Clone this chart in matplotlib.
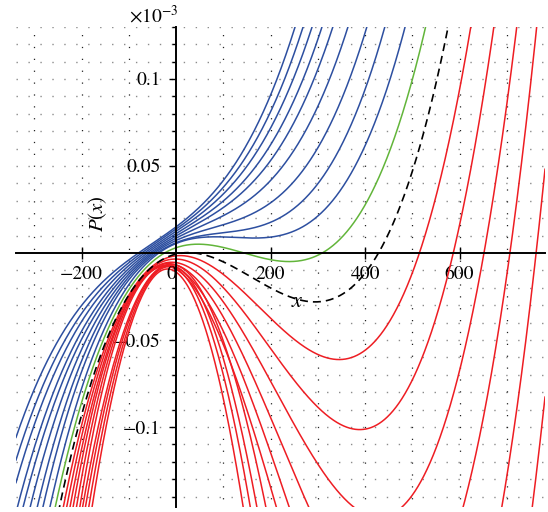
import numpy as np
import matplotlib.pyplot as plt

plt.rcParams['mathtext.fontset'] = 'stix'
plt.rcParams['font.family'] = ['STIXGeneral', 'DejaVu Serif']

# anchor points (x, P), P in units of 1e-3
# blue family, steepest first
blue_x = [
    [-339, -100, 0, 252],
    [-339, -100, 0, 269],
    [-339, -100, 0, 288],
    [-336, -100, 0, 309],
    [-324, -100, 0, 332],
    [-309, -100, 0, 364],
    [-294, -100, 0, 404],
    [-282, -100, 0, 442],
    [-267, -100, 0, 93, 199, 485],
]
blue_y = [
    [-0.106, -0.0040, 0.0150, 0.130],
    [-0.119, -0.0056, 0.0137, 0.130],
    [-0.132, -0.0072, 0.0124, 0.130],
    [-0.146, -0.0089, 0.0111, 0.130],
    [-0.146, -0.0105, 0.0098, 0.130],
    [-0.146, -0.0121, 0.0085, 0.130],
    [-0.146, -0.0137, 0.0072, 0.130],
    [-0.146, -0.0154, 0.0059, 0.130],
    [-0.146, -0.0170, 0.0046, 0.0084, 0.0099, 0.130],
]

green_x = [-256, 0, 45, 220, 300, 389, 528]
green_y = [-0.146, 0.0027, 0.005, -0.0046, 0.0, 0.021, 0.130]

dashed_x = [-247, 0, 57, 167, 298, 428, 576]
dashed_y = [-0.146, 0.0, -0.0024, -0.0136, -0.029, 0.0, 0.130]

# red family, shallowest first
red_x = [
    [-239, -100, 0, 347, 453, 514, 624],
    [-232, -100, 0, 389, 453, 586, 673],
    [-225, -100, 0, 370, 480, 650, 722],
    [-219, -100, 0, 281, 610, 705, 764],
    [-212, -100, 0, 239, 690, 762],
    [-205, -100, 0, 212, 755, 781],
    [-198, -100, 0, 190],
    [-192, -100, 0, 171],
    [-185, -100, 0, 157],
    [-178, -100, 0, 142],
]
red_y = [
    [-0.146, -0.025, -0.001, -0.061, -0.040, 0.0, 0.130],
    [-0.146, -0.027, -0.002, -0.102, -0.093, 0.0, 0.130],
    [-0.146, -0.029, -0.003, -0.146, -0.146, 0.0, 0.130],
    [-0.146, -0.031, -0.004, -0.146, -0.146, 0.0, 0.130],
    [-0.146, -0.033, -0.005, -0.146, -0.146, 0.0],
    [-0.146, -0.035, -0.006, -0.146, -0.146, -0.081],
    [-0.146, -0.037, -0.007, -0.146],
    [-0.146, -0.039, -0.008, -0.146],
    [-0.146, -0.042, -0.009, -0.146],
    [-0.146, -0.045, -0.011, -0.146],
]

xmin, xmax = -339, 781
ymin, ymax = -0.146, 0.130
xx = np.linspace(xmin, xmax, 2000)

fig = plt.figure(figsize=(5.48, 5.12), dpi=100)
ax = fig.add_axes([16 / 548, 5 / 512, 529 / 548, 480.3 / 512])
ax.set_xlim(xmin, xmax)
ax.set_ylim(ymin, ymax)

# maple style dotted grid
for gy in np.arange(-0.14, 0.131, 0.01):
    if abs(gy) > 1e-9:
        ax.axhline(gy, color='#8c8c8c', lw=1.0, linestyle=(0, (1, 7.6)), zorder=0)
for gx in range(-300, 800, 100):
    if gx != 0:
        ax.axvline(gx, color='#222222', lw=0.9, linestyle=(3, (1, 8.5)), zorder=0)


def curve(xs, ys, **kw):
    coef = np.polyfit(xs, ys, 3)
    ax.plot(xx, np.polyval(coef, xx), **kw)


for xs, ys in zip(blue_x, blue_y):
    curve(xs, ys, color='#2d4fa0', lw=1.1)
curve(green_x, green_y, color='#62b53a', lw=1.1)
for xs, ys in zip(red_x, red_y):
    curve(xs, ys, color='#ee1d23', lw=1.1)
curve(dashed_x, dashed_y, color='black', lw=1.2, linestyle=(0, (4.8, 3.0)))

# axes through the origin
for s in ['top', 'right']:
    ax.spines[s].set_visible(False)
ax.spines['left'].set_position(('data', 0))
ax.spines['bottom'].set_position(('data', 0))
ax.spines['left'].set_linewidth(1.4)
ax.spines['bottom'].set_linewidth(1.4)

ax.set_xticks([-200, 200, 400, 600])
ax.set_xticklabels(['\u2212200', '200', '400', '600'])
ax.set_yticks([-0.1, -0.05, 0.05, 0.1])
ax.set_yticklabels(['\u22120.1', '\u22120.05', '0.05', '0.1'])
ax.set_yticks(np.arange(-0.14, 0.131, 0.01), minor=True)
ax.tick_params(axis='x', direction='inout', length=8, width=1, labelsize=14, pad=5)
ax.tick_params(axis='y', which='major', direction='out', length=5, width=1, labelsize=14, pad=6)
ax.tick_params(axis='y', which='minor', direction='out', length=3, width=1)

ax.text(-10, -0.0125, '0', fontsize=14, ha='center', va='center')
ax.text(256, -0.0282, r'$x$', fontsize=16, ha='center', va='center')
fig.text(98 / 548, 1 - 214 / 512, r'$P(x)$', fontsize=15, rotation=90, ha='center', va='center')
fig.text(178 / 548, 1 - 23 / 512, r'$\times10^{-3}$', fontsize=14, ha='right', va='baseline')

fig.savefig('out.png', dpi=100)
